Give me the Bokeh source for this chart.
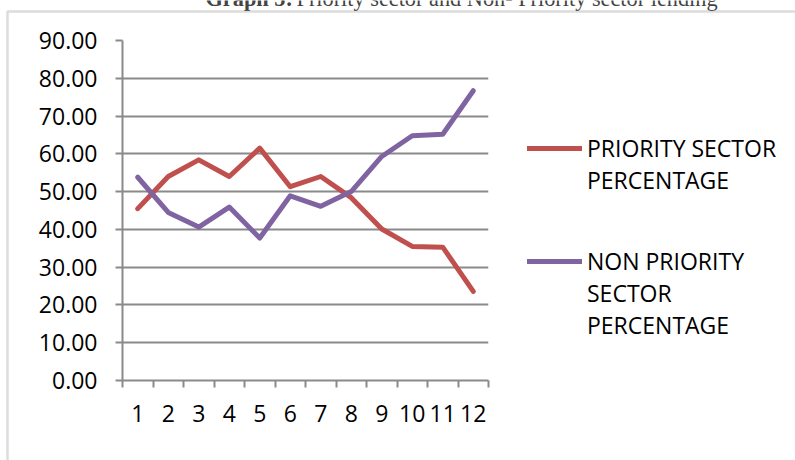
from bokeh.plotting import figure
from bokeh.models import (Range1d, FixedTicker, PrintfTickFormatter, Legend, LegendItem,
                          Label, BoxAnnotation, ColumnDataSource)
from bokeh.embed import file_html
from bokeh.resources import INLINE

# ---- data ----
periods = [1, 2, 3, 4, 5, 6, 7, 8, 9, 10, 11, 12]
x_labels = ["1", "2", "3", "4", "5", "6", "7", "8", "9", "10", "11", "12"]
priority_pct = [45.5, 54.0, 58.4, 54.0, 61.5, 51.3, 54.0, 48.4, 40.1, 35.5, 35.3, 23.6]
non_priority_pct = [53.8, 44.5, 40.6, 45.9, 37.7, 48.9, 46.1, 50.0, 59.3, 64.8, 65.2, 76.7]
y_ticks = [0, 10, 20, 30, 40, 50, 60, 70, 80, 90]
series_names = [["PRIORITY SECTOR", "PERCENTAGE"], ["NON PRIORITY", "SECTOR", "PERCENTAGE"]]
title_bold = "Graph 5:"
title_rest = "Priority sector and Non- Priority sector lending"

FONT = "Open Sans"
GRID = "#8a8a8a"
RED = "#C0504D"
PURPLE = "#8064A2"
W, H = 795, 460

p = figure(width=W, height=H, output_backend="svg", toolbar_location=None,
           x_range=Range1d(0.5, 12.5), y_range=Range1d(0, 90),
           min_border_left=122, min_border_right=307, min_border_top=40, min_border_bottom=80,
           styles={"position": "absolute", "left": "0px", "top": "0px"})
p.outline_line_color = None
p.background_fill_alpha = 0
p.border_fill_alpha = 0

# y axis
p.yaxis.ticker = FixedTicker(ticks=y_ticks)
p.yaxis.formatter = PrintfTickFormatter(format="%.2f")
p.yaxis.major_label_text_font = FONT
p.yaxis.major_label_text_font_size = "23px"
p.yaxis.major_label_text_color = "black"
p.yaxis.axis_line_color = GRID
p.yaxis.axis_line_width = 2
p.yaxis.major_tick_line_color = GRID
p.yaxis.major_tick_line_width = 2
p.yaxis.major_tick_out = 7
p.yaxis.major_tick_in = 0
p.yaxis.minor_tick_line_color = None
p.yaxis.major_label_standoff = 18

# x axis: labels at categories, tick marks at category boundaries
boundaries = [i + 0.5 for i in range(0, 13)]
p.xaxis.ticker = FixedTicker(ticks=periods, minor_ticks=boundaries)
p.xaxis.major_label_overrides = {k: v for k, v in zip(periods, x_labels)}
p.xaxis.major_label_text_font = FONT
p.xaxis.major_label_text_font_size = "23px"
p.xaxis.major_label_text_color = "black"
p.xaxis.axis_line_color = GRID
p.xaxis.axis_line_width = 2
p.xaxis.major_tick_line_color = None
p.xaxis.major_tick_out = 7
p.xaxis.major_tick_in = 0
p.xaxis.minor_tick_line_color = GRID
p.xaxis.minor_tick_line_width = 2
p.xaxis.minor_tick_out = 7
p.xaxis.minor_tick_in = 0
p.xaxis.major_label_standoff = 17

p.xgrid.grid_line_color = None
p.ygrid.ticker = FixedTicker(ticks=y_ticks)
p.ygrid.bounds = (-1, 91)
p.ygrid.grid_line_color = GRID
p.ygrid.grid_line_width = 2

src = ColumnDataSource(dict(x=periods, pr=priority_pct, npr=non_priority_pct))
line_kw = dict(line_width=5, line_cap="round", line_join="round")
r1 = p.line("x", "pr", source=src, line_color=RED, **line_kw)
r2 = p.line("x", "npr", source=src, line_color=PURPLE, **line_kw)

# overlay figure for the legend, the (cut-off) title and the chart-area border
bg = figure(width=W, height=H, output_backend="svg", toolbar_location=None,
            x_range=Range1d(0, 1), y_range=Range1d(0, 1),
            x_axis_type=None, y_axis_type=None, min_border=0,
            styles={"position": "absolute", "left": "0px", "top": "0px", "pointer-events": "none"})
bg.grid.grid_line_color = None
bg.outline_line_color = None
bg.background_fill_alpha = 0
bg.border_fill_alpha = 0

# legend keys: same series, drawn off this overlay's visible range
k1 = bg.line("x", "pr", source=src, line_color=RED, **line_kw)
k2 = bg.line("x", "npr", source=src, line_color=PURPLE, **line_kw)

legend_kw = dict(orientation="vertical", border_line_color=None, background_fill_alpha=0,
                 label_text_font=FONT, label_text_font_size="23px", label_text_color="black",
                 label_text_line_height=1.48, glyph_width=55, glyph_height=20,
                 label_standoff=5, padding=0, margin=0)
# a leading blank line so the key sits beside the first text line (as in the reference)
lg1 = Legend(items=[LegendItem(label="\n" + "\n".join(series_names[0]), renderers=[k1])],
             location=(527, 264), **legend_kw)
lg2 = Legend(items=[LegendItem(label="\n\n" + "\n".join(series_names[1]), renderers=[k2])],
             location=(527, 119), **legend_kw)
bg.add_layout(lg1, "center")
bg.add_layout(lg2, "center")

title_kw = dict(x_units="screen", y_units="screen", text_font="Liberation Serif",
                text_font_size="22.3px", text_baseline="alphabetic")
bg.add_layout(Label(x=205, y=H + 2, text=title_bold, text_font_style="bold", **title_kw))
bg.add_layout(Label(x=296, y=H + 2, text=title_rest, **title_kw))
bg.add_layout(BoxAnnotation(left=7, right=W + 50, top=H - 11, bottom=-50,
                            left_units="screen", right_units="screen",
                            top_units="screen", bottom_units="screen",
                            fill_alpha=0, line_color=GRID, line_width=2.5))

open("out.html", "w").write(file_html([p, bg], INLINE))
